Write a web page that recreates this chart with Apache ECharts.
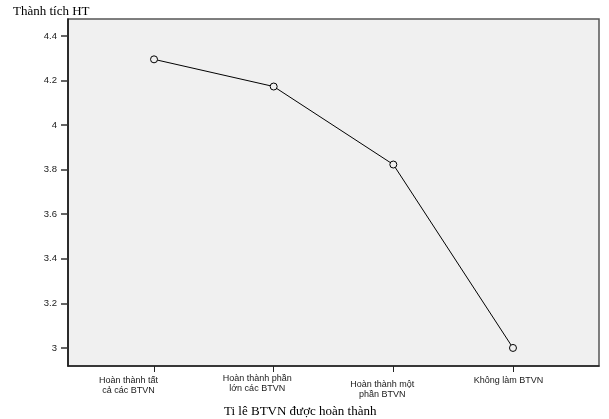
<!DOCTYPE html>
<html>
<head>
<meta charset="utf-8">
<script src="https://cdn.jsdelivr.net/npm/echarts@6/dist/echarts.min.js"></script>
<style>html,body{margin:0;padding:0;background:#fff}#c{width:609px;height:419px}</style>
</head>
<body>
<div id="c"></div>
<script>
var categories = [
  'Hoàn thành tất\ncả các BTVN',
  'Hoàn thành phần\nlớn các BTVN',
  'Hoàn thành một\nphần BTVN',
  'Không làm BTVN'
];
var values = [4.295, 4.173, 3.823, 3.0];
var yTicks = [3, 3.2, 3.4, 3.6, 3.8, 4, 4.2, 4.4];
var xTicks = [0, 1, 2, 3];
var labelGap = ['g2', '', 'g6', 'g2'];
var labelShift = ['w0', 'w1', 'w2', 'w3'];

var chart = echarts.init(document.getElementById('c'), null, {renderer: 'canvas'});
var data = values.map(function (v, i) { return [i, v]; });

var txt = {fontFamily: 'Liberation Sans', fontSize: 9, color: '#1a1a1a', lineHeight: 10.5};

chart.setOption({
  animation: false,
  backgroundColor: '#ffffff',
  title: [
    {text: 'Thành tích HT', left: 8, top: 0,
     textStyle: {fontFamily: 'Liberation Serif', fontSize: 13, fontWeight: 'normal', color: '#000'}},
    {text: 'Ti lê BTVN được hoàn thành', left: 219, top: 400,
     textStyle: {fontFamily: 'Liberation Serif', fontSize: 13, fontWeight: 'normal', color: '#000'}}
  ],
  grid: {left: 68, right: 10, top: 19, bottom: 53, show: true,
         backgroundColor: '#f0f0f0', borderColor: '#555', borderWidth: 1.5},
  xAxis: {
    type: 'value', min: -0.719, max: 3.719,
    splitLine: {show: false},
    axisLine: {show: true, onZero: false, lineStyle: {color: '#222', width: 1.5}},
    axisTick: {show: true, customValues: xTicks, length: 6, lineStyle: {color: '#222'}},
    axisLabel: {
      customValues: xTicks, margin: 7,
      fontFamily: 'Liberation Sans', fontSize: 9, color: '#1a1a1a', lineHeight: 10.5,
      formatter: function (v) {
        var i = Math.round(v);
        var sh = labelShift[i];
        var lines = categories[i].split('\n').map(function (line) {
          return '{n|' + line + '}{' + sh + '| }';
        });
        if (labelGap[i]) { lines.unshift('{' + labelGap[i] + '| }'); }
        return lines.join('\n');
      },
      rich: {
        n: txt,
        g2: {fontSize: 2, lineHeight: 2},
        g6: {fontSize: 6, lineHeight: 6},
        w0: {fontSize: 9, lineHeight: 10.5, width: 51},
        w1: {fontSize: 9, lineHeight: 10.5, width: 33},
        w2: {fontSize: 9, lineHeight: 10.5, width: 22},
        w3: {fontSize: 9, lineHeight: 10.5, width: 9}
      }
    }
  },
  yAxis: {
    type: 'value', min: 2.919, max: 4.476,
    splitLine: {show: false},
    axisLine: {show: true, onZero: false, lineStyle: {color: '#111', width: 1.5}},
    axisTick: {show: true, customValues: yTicks, length: 7, lineStyle: {color: '#333', width: 1.5}},
    axisLabel: {customValues: yTicks, margin: 11, fontFamily: 'Liberation Sans', fontSize: 9.5, color: '#1a1a1a',
      formatter: function (v) { return String(v); }}
  },
  series: [{
    type: 'line',
    data: data,
    symbol: 'circle',
    symbolSize: 7,
    lineStyle: {color: '#000', width: 1},
    itemStyle: {color: '#f0f0f0', borderColor: '#000', borderWidth: 1},
    emphasis: {disabled: true}
  }]
});
</script>
</body>
</html>
